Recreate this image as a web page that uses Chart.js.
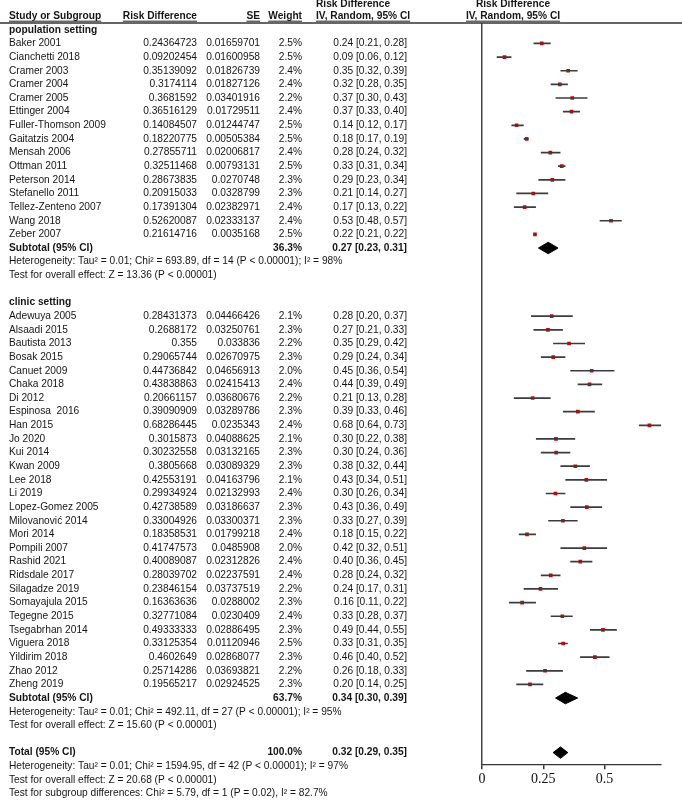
<!DOCTYPE html>
<html>
<head>
<meta charset="utf-8">
<script src="https://cdn.jsdelivr.net/npm/chart.js@4.4.0/dist/chart.umd.min.js"></script>
<style>
body { margin: 0; background: #fff; }
</style>
</head>
<body>
<canvas id="forest" width="682" height="804"></canvas>
<script>
// population setting studies
var popStudies = ['Baker 2001', 'Cianchetti 2018', 'Cramer 2003', 'Cramer 2004', 'Cramer 2005', 'Ettinger 2004',
  'Fuller-Thomson 2009', 'Gaitatzis 2004', 'Mensah 2006', 'Ottman 2011', 'Peterson 2014', 'Stefanello 2011',
  'Tellez-Zenteno 2007', 'Wang 2018', 'Zeber 2007'];
var popRd = [0.24364723, 0.09202454, 0.35139092, 0.3174114, 0.3681592, 0.36516129, 0.14084507, 0.18220775,
  0.27855711, 0.32511468, 0.28673835, 0.20915033, 0.17391304, 0.52620087, 0.21614716];
var popSe = [0.01659701, 0.01600958, 0.01826739, 0.01827126, 0.03401916, 0.01729511, 0.01244747, 0.00505384,
  0.02006817, 0.00793131, 0.0270748, 0.0328799, 0.02382971, 0.02333137, 0.0035168];
var popWeight = [2.5, 2.5, 2.4, 2.4, 2.2, 2.4, 2.5, 2.5, 2.4, 2.5, 2.3, 2.3, 2.4, 2.4, 2.5];
var popLo = [0.21, 0.06, 0.32, 0.28, 0.30, 0.33, 0.12, 0.17, 0.24, 0.31, 0.23, 0.14, 0.13, 0.48, 0.21];
var popHi = [0.28, 0.12, 0.39, 0.35, 0.43, 0.40, 0.17, 0.19, 0.32, 0.34, 0.34, 0.27, 0.22, 0.57, 0.22];

// clinic setting studies
var clinStudies = ['Adewuya 2005', 'Alsaadi 2015', 'Bautista 2013', 'Bosak 2015', 'Canuet 2009', 'Chaka 2018',
  'Di 2012', 'Espinosa  2016', 'Han 2015', 'Jo 2020', 'Kui 2014', 'Kwan 2009', 'Lee 2018', 'Li 2019',
  'Lopez-Gomez 2005', 'Milovanović 2014', 'Mori 2014', 'Pompili 2007', 'Rashid 2021', 'Ridsdale 2017',
  'Silagadze 2019', 'Somayajula 2015', 'Tegegne 2015', 'Tsegabrhan 2014', 'Viguera 2018', 'Yildirim 2018',
  'Zhao 2012', 'Zheng 2019'];
var clinRd = [0.28431373, 0.2688172, 0.355, 0.29065744, 0.44736842, 0.43838863, 0.20661157, 0.39090909,
  0.68286445, 0.3015873, 0.30232558, 0.3805668, 0.42553191, 0.29934924, 0.42738589, 0.33004926, 0.18358531,
  0.41747573, 0.40089087, 0.28039702, 0.23846154, 0.16363636, 0.32771084, 0.49333333, 0.33125354, 0.4602649,
  0.25714286, 0.19565217];
var clinSe = [0.04466426, 0.03250761, 0.033836, 0.02670975, 0.04656913, 0.02415413, 0.03680676, 0.03289786,
  0.0235343, 0.04088625, 0.03132165, 0.03089329, 0.04163796, 0.02132993, 0.03186637, 0.03300371, 0.01799218,
  0.0485908, 0.02312826, 0.02237591, 0.03737519, 0.0288002, 0.0230409, 0.02886495, 0.01120946, 0.02868077,
  0.03693821, 0.02924525];
var clinWeight = [2.1, 2.3, 2.2, 2.3, 2.0, 2.4, 2.2, 2.3, 2.4, 2.1, 2.3, 2.3, 2.1, 2.4, 2.3, 2.3, 2.4, 2.0,
  2.4, 2.4, 2.2, 2.3, 2.4, 2.3, 2.5, 2.3, 2.2, 2.3];
var clinLo = [0.20, 0.21, 0.29, 0.24, 0.36, 0.39, 0.13, 0.33, 0.64, 0.22, 0.24, 0.32, 0.34, 0.26, 0.36, 0.27,
  0.15, 0.32, 0.36, 0.24, 0.17, 0.11, 0.28, 0.44, 0.31, 0.40, 0.18, 0.14];
var clinHi = [0.37, 0.33, 0.42, 0.34, 0.54, 0.49, 0.28, 0.46, 0.73, 0.38, 0.36, 0.44, 0.51, 0.34, 0.49, 0.39,
  0.22, 0.51, 0.45, 0.32, 0.31, 0.22, 0.37, 0.55, 0.35, 0.52, 0.33, 0.25];

// pooled estimates: population subtotal, clinic subtotal, total
var poolLabels = ['Subtotal (95% CI)', 'Subtotal (95% CI)', 'Total (95% CI)'];
var poolWeight = [36.3, 63.7, 100.0];
var poolEst = [0.27, 0.34, 0.32];
var poolLo = [0.23, 0.30, 0.29];
var poolHi = [0.31, 0.39, 0.35];

var xTicks = [0, 0.25, 0.5];

var popNotes = ['Heterogeneity: Tau\u00b2 = 0.01; Chi\u00b2 = 693.89, df = 14 (P < 0.00001); I\u00b2 = 98%',
  'Test for overall effect: Z = 13.36 (P < 0.00001)'];
var clinNotes = ['Heterogeneity: Tau\u00b2 = 0.01; Chi\u00b2 = 492.11, df = 27 (P < 0.00001); I\u00b2 = 95%',
  'Test for overall effect: Z = 15.60 (P < 0.00001)'];
var totalNotes = ['Heterogeneity: Tau\u00b2 = 0.01; Chi\u00b2 = 1594.95, df = 42 (P < 0.00001); I\u00b2 = 97%',
  'Test for overall effect: Z = 20.68 (P < 0.00001)',
  'Test for subgroup differences: Chi\u00b2 = 5.79, df = 1 (P = 0.02), I\u00b2 = 82.7%'];

// row numbers (y values) for each block
var popStart = 0;
var clinStart = popStudies.length + 5;            // 20
var poolRows = [popStudies.length, clinStart + clinStudies.length, clinStart + clinStudies.length + 4];

// build the study list used for marks
var studies = [];
popStudies.forEach(function (n, i) {
  studies.push({name: n, rd: popRd[i], se: popSe[i], w: popWeight[i], lo: popLo[i], hi: popHi[i], row: popStart + i});
});
clinStudies.forEach(function (n, i) {
  studies.push({name: n, rd: clinRd[i], se: clinSe[i], w: clinWeight[i], lo: clinLo[i], hi: clinHi[i], row: clinStart + i});
});

var ciPoints = [];
studies.forEach(function (s) {
  ciPoints.push({x: s.lo, y: s.row}, {x: s.hi, y: s.row}, {x: null, y: null});
});
var markPoints = studies.map(function (s) { return {x: s.rd, y: s.row}; });

var datasets = [{
  label: 'CI',
  data: ciPoints,
  showLine: true,
  spanGaps: false,
  borderColor: '#3c3c3c',
  borderWidth: 1.7,
  pointRadius: 0
}, {
  label: 'estimate',
  data: markPoints,
  pointStyle: 'rect',
  pointRadius: 2.6,
  pointBackgroundColor: '#e00000',
  pointBorderWidth: 0
}];

poolEst.forEach(function (e, k) {
  var r = poolRows[k];
  datasets.push({
    label: 'pooled' + k,
    data: [{x: poolLo[k], y: r}, {x: e, y: r - 0.42}, {x: poolHi[k], y: r}, {x: e, y: r + 0.42}, {x: poolLo[k], y: r}],
    showLine: true,
    fill: 'shape',
    backgroundColor: '#000',
    borderColor: '#000',
    borderWidth: 1,
    pointRadius: 0,
    tension: 0
  });
});

var FONT = '"Liberation Sans", Arial, sans-serif';
var textColor = '#151515';

var tablePlugin = {
  id: 'forestTable',
  afterDraw: function (chart) {
    var ctx = chart.ctx;
    var ys = chart.scales.y;
    var col = {name: 9, rd: 197, se: 260, w: 302, ci: 407, ciHead: 316, plotHead: 513};

    function txt(s, x, row, align, bold) {
      ctx.font = (bold ? 'bold ' : '') + '10.2px ' + FONT;
      ctx.textAlign = align;
      ctx.fillText(s, x, ys.getPixelForValue(row));
    }
    function fmt(v) { return v.toFixed(2); }

    ctx.save();
    ctx.fillStyle = textColor;
    ctx.textBaseline = 'middle';

    // header
    var h1 = -2.85, h2 = -2.0;
    txt('Risk Difference', col.ciHead, h1, 'left', true);
    txt('Risk Difference', col.plotHead, h1, 'center', true);
    var heads = [['Study or Subgroup', col.name, 'left'], ['Risk Difference', col.rd, 'right'], ['SE', col.se, 'right'],
      ['Weight', col.w, 'right'], ['IV, Random, 95% CI', col.ciHead, 'left'], ['IV, Random, 95% CI', col.plotHead, 'center']];
    ctx.strokeStyle = '#222';
    ctx.lineWidth = 1;
    var uy = ys.getPixelForValue(h2) + 5;
    heads.forEach(function (h) {
      txt(h[0], h[1], h2, h[2], true);
      var wd = ctx.measureText(h[0]).width;
      var x0 = h[2] === 'left' ? h[1] : h[2] === 'right' ? h[1] - wd : h[1] - wd / 2;
      ctx.beginPath();
      ctx.moveTo(x0, uy);
      ctx.lineTo(x0 + wd, uy);
      ctx.stroke();
    });
    ctx.beginPath();
    ctx.lineWidth = 1.3;
    ctx.strokeStyle = '#333';
    ctx.moveTo(0, chart.chartArea.top);
    ctx.lineTo(682, chart.chartArea.top);
    ctx.stroke();

    // group titles
    txt('population setting', col.name, popStart - 1, 'left', true);
    txt('clinic setting', col.name, clinStart - 1, 'left', true);

    // study rows
    studies.forEach(function (s) {
      txt(s.name, col.name, s.row, 'left');
      txt(String(s.rd), col.rd, s.row, 'right');
      txt(String(s.se), col.se, s.row, 'right');
      txt(s.w.toFixed(1) + '%', col.w, s.row, 'right');
      txt(fmt(s.rd) + ' [' + fmt(s.lo) + ', ' + fmt(s.hi) + ']', col.ci, s.row, 'right');
    });

    // pooled rows and notes
    poolRows.forEach(function (r, k) {
      txt(poolLabels[k], col.name, r, 'left', true);
      txt(poolWeight[k].toFixed(1) + '%', col.w, r, 'right', true);
      txt(fmt(poolEst[k]) + ' [' + fmt(poolLo[k]) + ', ' + fmt(poolHi[k]) + ']', col.ci, r, 'right', true);
    });
    [popNotes, clinNotes, totalNotes].forEach(function (notes, k) {
      notes.forEach(function (n, j) {
        txt(n, col.name, poolRows[k] + 1 + j, 'left');
      });
    });
    ctx.restore();
  }
};

var chart = new Chart(document.getElementById('forest'), {
  type: 'scatter',
  data: {datasets: datasets},
  options: {
    responsive: false,
    animation: false,
    devicePixelRatio: 1,
    layout: {padding: {left: 482, right: 21, top: 23, bottom: 14}},
    plugins: {legend: {display: false}, tooltip: {enabled: false}},
    scales: {
      x: {
        type: 'linear',
        min: 0,
        max: 0.73,
        afterBuildTicks: function (scale) {
          scale.ticks = xTicks.map(function (v) { return {value: v}; });
        },
        ticks: {
          color: '#111',
          padding: 2,
          font: {family: '"Liberation Serif", "Times New Roman", serif', size: 14},
          callback: function (v) { return String(v); }
        },
        grid: {
          color: function (c) { return c.tick && c.tick.value === 0 ? '#444' : 'rgba(0,0,0,0)'; },
          lineWidth: 1.5,
          tickColor: '#333',
          tickLength: 5,
          drawOnChartArea: true
        },
        border: {display: true, color: '#333', width: 1.3}
      },
      y: {
        type: 'linear',
        display: false,
        reverse: true,
        min: -1.5,
        max: 52.85
      }
    }
  },
  plugins: [tablePlugin]
});
</script>
</body>
</html>
